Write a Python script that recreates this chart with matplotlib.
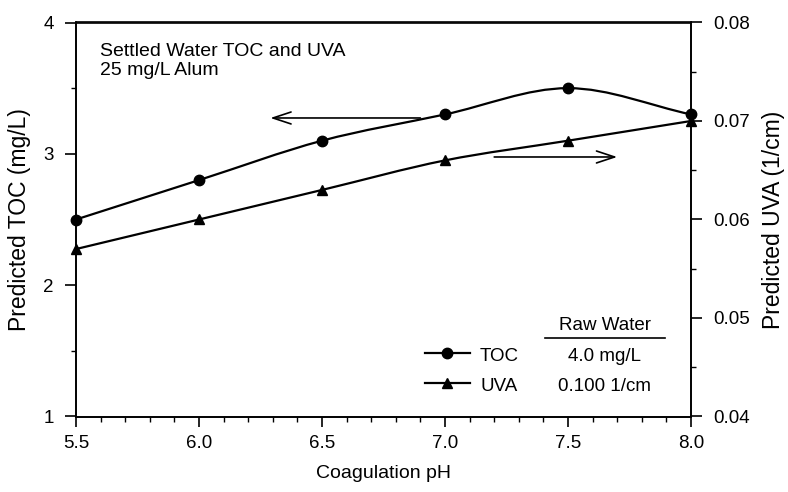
import matplotlib
matplotlib.use("Agg")
import matplotlib.pyplot as plt
import numpy as np
from matplotlib.path import Path
from matplotlib.patches import PathPatch
from matplotlib.ticker import MultipleLocator, FormatStrFormatter
from matplotlib.lines import Line2D

plt.rcParams['font.family'] = ['Liberation Sans', 'DejaVu Sans']

ph = [5.5, 6.0, 6.5, 7.0, 7.5, 8.0]
toc = [2.5, 2.8, 3.1, 3.3, 3.5, 3.3]
uva = [0.057, 0.060, 0.063, 0.066, 0.068, 0.070]
raw_header = "Raw Water"
raw_toc = "4.0 mg/L"
raw_uva = "0.100 1/cm"


def smooth_path(xs, ys):
    x = np.asarray(xs, float)
    y = np.asarray(ys, float)
    n = len(x)
    m = np.zeros(n)
    for i in range(n):
        if i == 0:
            m[i] = (y[1] - y[0]) / (x[1] - x[0])
        elif i == n - 1:
            m[i] = (y[-1] - y[-2]) / (x[-1] - x[-2])
        else:
            m[i] = (y[i + 1] - y[i - 1]) / (x[i + 1] - x[i - 1])
    verts = [(x[0], y[0])]
    codes = [Path.MOVETO]
    for i in range(n - 1):
        h = x[i + 1] - x[i]
        verts += [(x[i] + h / 3, y[i] + m[i] * h / 3),
                  (x[i + 1] - h / 3, y[i + 1] - m[i + 1] * h / 3),
                  (x[i + 1], y[i + 1])]
        codes += [Path.CURVE4] * 3
    return Path(verts, codes)


fig = plt.figure(figsize=(7.88, 4.92), dpi=100)
ax = fig.add_axes([76 / 788, 1 - 416.5 / 492, 615 / 788, 394 / 492])
ax2 = ax.twinx()

ax.set_xlim(5.5, 8.0)
ax.set_ylim(1, 4)
ax2.set_ylim(0.04, 0.08)

lw = 1.6
ax.add_patch(PathPatch(smooth_path(ph, toc), fill=False, lw=lw, color='black', clip_on=False))
ax.plot(ph, toc, 'o', color='black', ms=7.5, clip_on=False, zorder=5)
ax2.add_patch(PathPatch(smooth_path(ph, uva), fill=False, lw=lw, color='black', clip_on=False))
ax2.plot(ph, uva, '^', color='black', ms=7.5, clip_on=False, zorder=5)

ax.xaxis.set_major_locator(MultipleLocator(0.5))
ax.xaxis.set_minor_locator(MultipleLocator(0.1))
ax.xaxis.set_major_formatter(FormatStrFormatter('%.1f'))
ax.yaxis.set_major_locator(MultipleLocator(1))
ax.yaxis.set_minor_locator(MultipleLocator(0.5))
ax2.yaxis.set_major_locator(MultipleLocator(0.01))
ax2.yaxis.set_minor_locator(MultipleLocator(0.005))
ax2.yaxis.set_major_formatter(FormatStrFormatter('%.2f'))

for a in (ax, ax2):
    a.tick_params(which='major', direction='out', length=8, width=1.2, labelsize=13.5, pad=8)
    a.tick_params(which='minor', direction='out', length=3.5, width=1.0)
    for s in a.spines.values():
        s.set_linewidth(1.2)
ax.tick_params(axis='x', which='major', length=7, pad=6)

ax.set_xlabel('Coagulation pH', fontsize=14, labelpad=10)
ax.set_ylabel('Predicted TOC (mg/L)', fontsize=16.5, labelpad=9)
ax2.set_ylabel('Predicted UVA (1/cm)', fontsize=16.5, labelpad=9)

ax.text(0.039, 0.915, 'Settled Water TOC and UVA', transform=ax.transAxes,
        fontsize=14, va='baseline', ha='left')
ax.text(0.039, 0.8668, '25 mg/L Alum', transform=ax.transAxes,
        fontsize=14, va='baseline', ha='left')

arrow_kw = dict(arrowstyle='->,head_length=1.3,head_width=0.43', color='black', lw=1.2,
                shrinkA=0, shrinkB=0, mutation_scale=10)
ax.annotate('', xy=(6.29, 3.273), xytext=(6.90, 3.273), arrowprops=arrow_kw)
ax.annotate('', xy=(7.70, 2.976), xytext=(7.20, 2.976), arrowprops=arrow_kw)

# legend table
for yl, yt, mk, lab, val in [(0.161, 0.1416, 'o', 'TOC', raw_toc),
                             (0.085, 0.0647, '^', 'UVA', raw_uva)]:
    ax.add_line(Line2D([0.567, 0.641], [yl, yl], transform=ax.transAxes, color='black', lw=lw))
    ax.add_line(Line2D([0.604], [yl], transform=ax.transAxes, color='black', marker=mk, ms=7.5))
    ax.text(0.657, yt, lab, transform=ax.transAxes, fontsize=13.5, va='baseline', ha='left')
    ax.text(0.86, yt, val, transform=ax.transAxes, fontsize=13.5, va='baseline', ha='center')
ax.text(0.86, 0.2195, raw_header, transform=ax.transAxes, fontsize=13.5, va='baseline', ha='center')
ax.add_line(Line2D([0.763, 0.958], [0.1992, 0.1992], transform=ax.transAxes, color='black', lw=1.2))

fig.savefig('out.png', dpi=100)
